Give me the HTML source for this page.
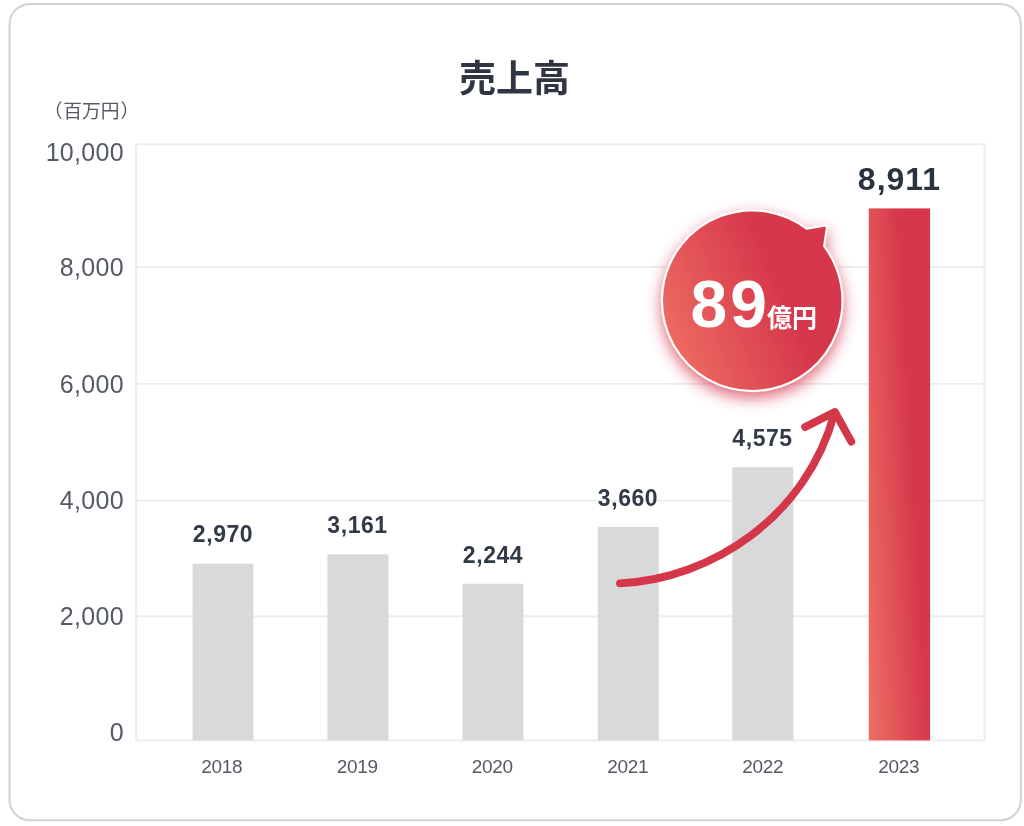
<!DOCTYPE html>
<html lang="ja">
<head>
<meta charset="utf-8">
<title>売上高</title>
<style>
  html, body { margin: 0; padding: 0; }
  body {
    width: 1024px; height: 826px; position: relative; overflow: hidden;
    background: #ffffff;
    font-family: "Liberation Sans", "Noto Sans CJK JP", sans-serif;
    color: #2f3542;
  }
  .stage { position: absolute; left: 0; top: 0; width: 1024px; height: 826px; filter: blur(0.45px); }
  svg.gfx { position: absolute; left: 0; top: 0; }
  .title {
    position: absolute; left: 0; width: 1024px; top: 52.5px; height: 54px; line-height: 54px;
    text-align: center; font-size: 37px; font-weight: 700; color: #2f3542;
    text-indent: 5px;
  }
  .unit {
    position: absolute; left: 44.6px; top: 98.5px; height: 26px; line-height: 26px;
    font-size: 18.75px; color: #555a63; white-space: nowrap;
  }
  .unit .pl { margin: 0 0.8px 0 -0.8px; }
  .unit .pr { margin-left: 0.8px; }
  .ylab {
    position: absolute; left: 20px; width: 103.9px; text-align: right; height: 30px; line-height: 30px;
    font-size: 25px; letter-spacing: 0.3px; color: #545a65; white-space: nowrap;
  }
  .val {
    position: absolute; width: 140px; text-align: center; font-weight: 700; font-size: 23px; letter-spacing: 0.55px;
    height: 28px; line-height: 28px; color: #333a47; white-space: nowrap;
  }
  .val.big { font-size: 32px; letter-spacing: 1px; height: 40px; line-height: 40px; color: #2b3240; }
  .xlab {
    position: absolute; width: 100px; text-align: center; top: 754.5px; height: 24px; line-height: 24px;
    font-size: 19px; letter-spacing: -0.3px; text-indent: -0.3px; color: #545962; white-space: nowrap;
  }
  .b89 {
    position: absolute; left: 690.5px; top: 265.5px; height: 76px; line-height: 76px;
    font-size: 66px; font-weight: 700; color: #fff; white-space: nowrap; letter-spacing: 3px;
  }
  .boku {
    position: absolute; left: 767px; top: 300px; height: 36px; line-height: 36px;
    font-size: 25px; font-weight: 700; color: #fff; white-space: nowrap;
  }
</style>
</head>
<body>
<div class="stage">
  <svg class="gfx" width="1024" height="826" viewBox="0 0 1024 826">
    <defs>
      <linearGradient id="barg" gradientUnits="userSpaceOnUse" x1="868.75" y1="740" x2="929.05" y2="736.52">
        <stop offset="0" stop-color="#ed7063"/>
        <stop offset="1" stop-color="#d6374b"/>
      </linearGradient>
      <linearGradient id="bg" gradientUnits="userSpaceOnUse" x1="669.2" y1="336.3" x2="782.7" y2="289.1">
        <stop offset="0" stop-color="#ec6a61"/>
        <stop offset="1" stop-color="#d6374b"/>
      </linearGradient>
      <filter id="glow" x="-40%" y="-40%" width="180%" height="180%">
        <feGaussianBlur stdDeviation="7.4"/>
      </filter>
    </defs>
    <!-- card -->
    <rect x="9.5" y="3.9" width="1011.4" height="816.4" rx="20.5" ry="20.5" fill="#ffffff" stroke="#d1d1d1" stroke-width="2"/>
    <!-- plot frame + grid -->
    <g fill="none" stroke="#edecee" stroke-width="1.9">
      <rect x="136.2" y="144.2" width="848.3" height="596.3"/>
      <path d="M136.2 267.05H984.5M136.2 383.9H984.5M136.2 500.65H984.5M136.2 616.2H984.5"/>
    </g>
    <!-- bars -->
    <rect x="192.6" y="563.7" width="60.8" height="176.7" fill="#d9d9d9"/>
    <rect x="327.4" y="554.4" width="61.1" height="186.0" fill="#d9d9d9"/>
    <rect x="462.5" y="583.8" width="60.9" height="156.6" fill="#d9d9d9"/>
    <rect x="597.8" y="526.9" width="61.0" height="213.5" fill="#d9d9d9"/>
    <rect x="732.3" y="467.2" width="61.0" height="273.2" fill="#d9d9d9"/>
    <rect x="868.75" y="208.4" width="61.35" height="532" fill="url(#barg)"/>
    <!-- arrow -->
    <path d="M620 583.3 C711.7 579 806.6 517 834.6 412.4" fill="none" stroke="#d4364a" stroke-width="7.8" stroke-linecap="round"/>
    <path d="M805.1 427 L834.9 412 L851.3 441.6" fill="none" stroke="#d4364a" stroke-width="7.8" stroke-linecap="round" stroke-linejoin="round"/>
    <!-- bubble -->
    <path d="M824.13 246.1 A90.3 90.3 0 1 1 806.54 228.58 L824.34 225.77 Q827.3 225.3 826.85 228.27 Z" transform="translate(0 6)" fill="#d6364b" stroke="#d6364b" stroke-width="2" opacity="0.75" filter="url(#glow)"/>
    <path d="M824.13 246.1 A90.3 90.3 0 1 1 806.54 228.58 L824.34 225.77 Q827.3 225.3 826.85 228.27 Z" fill="url(#bg)" stroke="#ffffff" stroke-width="2.2" stroke-linejoin="round"/>
  </svg>

  <div class="title">売上高</div>
  <div class="unit"><span class="pl">（</span>百万円<span class="pr">）</span></div>

  <div class="ylab" style="top:137px">10,000</div>
  <div class="ylab" style="top:252px">8,000</div>
  <div class="ylab" style="top:369px">6,000</div>
  <div class="ylab" style="top:485px">4,000</div>
  <div class="ylab" style="top:601px">2,000</div>
  <div class="ylab" style="top:717px">0</div>

  <div class="val" style="left:153px; top:520px">2,970</div>
  <div class="val" style="left:287.5px; top:511px">3,161</div>
  <div class="val" style="left:423px; top:540.5px">2,244</div>
  <div class="val" style="left:558px; top:483.5px">3,660</div>
  <div class="val" style="left:692.5px; top:424px">4,575</div>
  <div class="val big" style="left:829.5px; top:159px">8,911</div>

  <div class="xlab" style="left:172px">2018</div>
  <div class="xlab" style="left:307.5px">2019</div>
  <div class="xlab" style="left:442.5px">2020</div>
  <div class="xlab" style="left:578px">2021</div>
  <div class="xlab" style="left:713px">2022</div>
  <div class="xlab" style="left:849px">2023</div>

  <div class="b89">89</div>
  <div class="boku">億円</div>
</div>
</body>
</html>
